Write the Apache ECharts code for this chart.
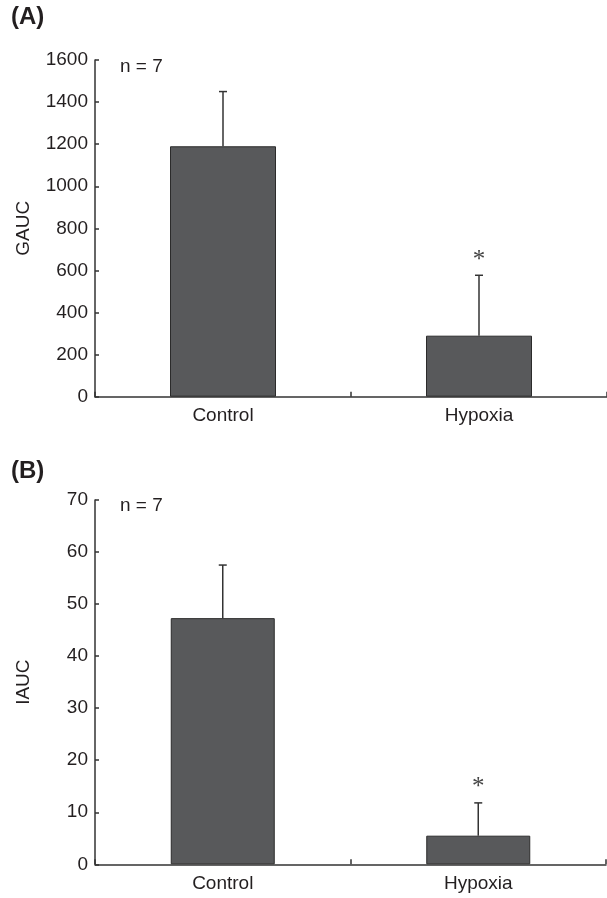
<!DOCTYPE html>
<html>
<head>
<meta charset="utf-8">
<script src="https://cdn.jsdelivr.net/npm/echarts@6/dist/echarts.min.js"></script>
<style>
html,body{margin:0;padding:0;background:#fff;}
#c{width:607px;height:898px;}
</style>
</head>
<body>
<div id="c"></div>
<script>
var categories = ['Control', 'Hypoxia'];
var gaucMean = [1190, 290];
var gaucUpper = [1450, 577];
var iaucMean = [47.3, 5.5];
var iaucUpper = [57.5, 11.8];
var significant = [false, true];
var gaucTicks = [0, 1600, 200];
var iaucTicks = [0, 70, 10];

var TXT = '#231f20';
var AX = '#333333';
var FONT = 'Liberation Sans, Arial, sans-serif';
var FS = 19;

function errData(mean, upper) {
  return categories.map(function (c, i) { return [i, mean[i], upper[i], significant[i] ? 1 : 0]; });
}

function errRender(params, api) {
  var x = api.value(0);
  var lo = api.coord([x, api.value(1)]);
  var hi = api.coord([x, api.value(2)]);
  var cap = 4;
  var children = [
    { type: 'line', shape: { x1: lo[0], y1: lo[1], x2: hi[0], y2: hi[1] }, style: { stroke: AX, lineWidth: 1.5 } },
    { type: 'line', shape: { x1: hi[0] - cap, y1: hi[1], x2: hi[0] + cap, y2: hi[1] }, style: { stroke: AX, lineWidth: 1.5 } }
  ];
  if (api.value(3)) {
    children.push({ type: 'text', x: hi[0], y: hi[1] - 15, style: { text: '*', font: '25px "Liberation Serif", serif', fill: '#444', align: 'center', verticalAlign: 'middle' } });
  }
  return { type: 'group', children: children };
}

function xAxisCfg(gi) {
  return {
    type: 'category', gridIndex: gi, data: categories,
    axisLine: { lineStyle: { color: AX, width: 1.5 } },
    axisTick: { show: true, inside: true, length: 5, alignWithLabel: false, lineStyle: { color: AX, width: 1.5 } },
    axisLabel: { color: TXT, fontSize: FS, fontFamily: FONT, margin: 10 },
    splitLine: { show: false }
  };
}
function yAxisCfg(gi, ticks, name) {
  return {
    type: 'value', gridIndex: gi, min: ticks[0], max: ticks[1], interval: ticks[2],
    name: name, nameLocation: 'middle', nameRotate: 90, nameGap: 62,
    nameTextStyle: { color: TXT, fontSize: FS, fontFamily: FONT },
    axisLine: { show: true, lineStyle: { color: AX, width: 1.5 } },
    axisTick: { show: true, inside: true, length: 4, lineStyle: { color: AX, width: 1.5 } },
    axisLabel: { color: TXT, fontSize: FS, fontFamily: FONT, margin: 7, formatter: function (v) { return String(v); } },
    splitLine: { show: false }
  };
}

var chart = echarts.init(document.getElementById('c'));
chart.setOption({
  animation: false,
  backgroundColor: '#fff',
  grid: [
    { left: 95, top: 60, width: 518, height: 336.7 },
    { left: 95, top: 500, width: 511, height: 364.3 }
  ],
  xAxis: [xAxisCfg(0), xAxisCfg(1)],
  yAxis: [yAxisCfg(0, gaucTicks, 'GAUC'), yAxisCfg(1, iaucTicks, 'IAUC')],
  graphic: [
    { type: 'text', left: 11, top: 5, style: { text: '(A)', font: 'bold 24px ' + FONT, fill: TXT } },
    { type: 'text', left: 11, top: 459, style: { text: '(B)', font: 'bold 24px ' + FONT, fill: TXT } },
    { type: 'text', left: 120, top: 57, style: { text: 'n = 7', font: FS + 'px ' + FONT, fill: TXT } },
    { type: 'text', left: 120, top: 496, style: { text: 'n = 7', font: FS + 'px ' + FONT, fill: TXT } }
  ],
  series: [
    { type: 'bar', xAxisIndex: 0, yAxisIndex: 0, data: gaucMean, barWidth: 106,
      itemStyle: { color: '#58595b', borderColor: '#2b2b2b', borderWidth: 1 } },
    { type: 'custom', xAxisIndex: 0, yAxisIndex: 0, data: errData(gaucMean, gaucUpper), renderItem: errRender, z: 5 },
    { type: 'bar', xAxisIndex: 1, yAxisIndex: 1, data: iaucMean, barWidth: 104,
      itemStyle: { color: '#58595b', borderColor: '#2b2b2b', borderWidth: 1 } },
    { type: 'custom', xAxisIndex: 1, yAxisIndex: 1, data: errData(iaucMean, iaucUpper), renderItem: errRender, z: 5 }
  ]
});
</script>
</body>
</html>
